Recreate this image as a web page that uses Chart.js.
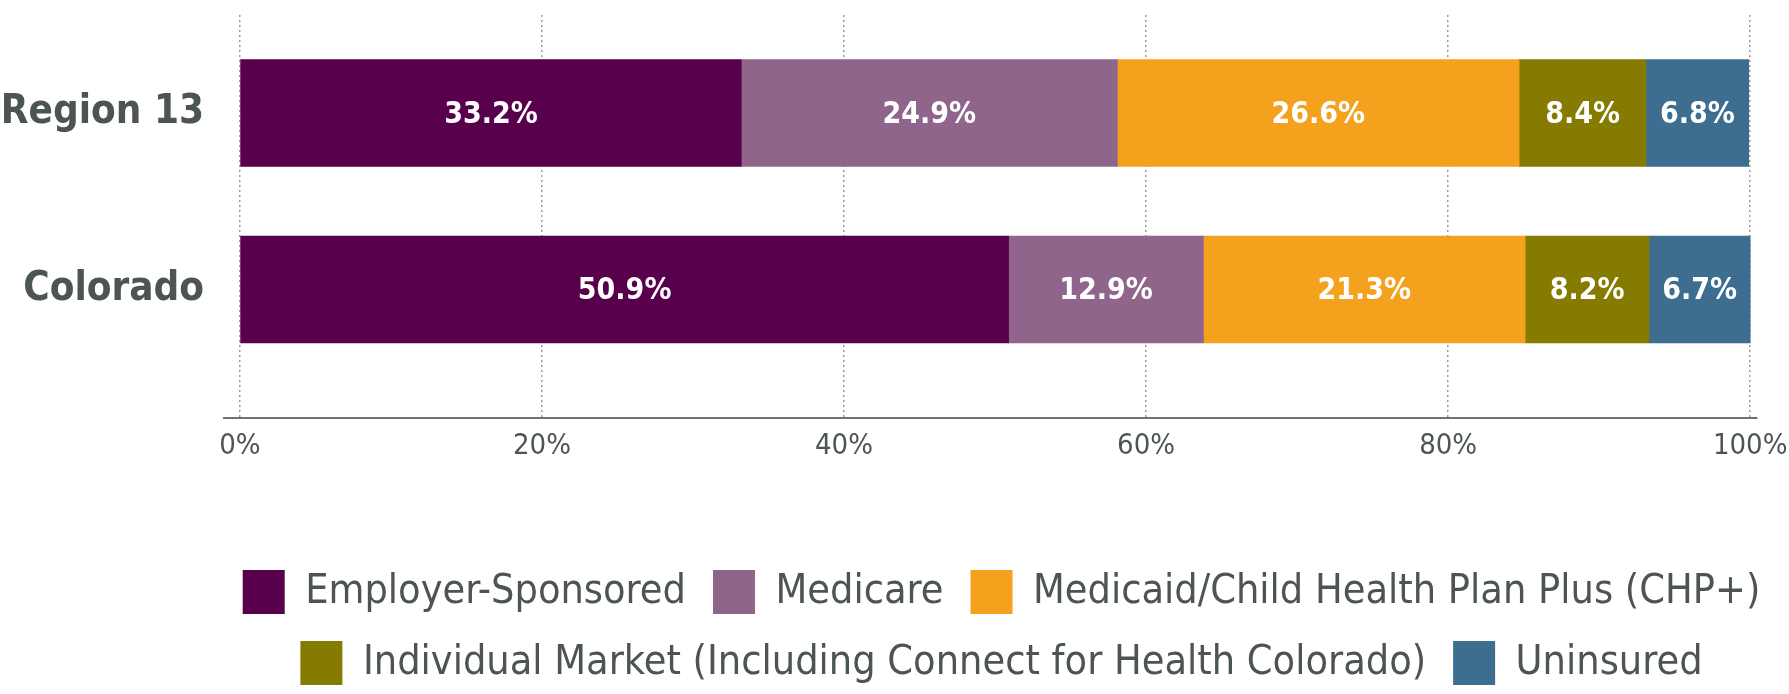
<!DOCTYPE html>
<html>
<head>
<meta charset="utf-8">
<script src="https://cdn.jsdelivr.net/npm/chart.js@4.4.0/dist/chart.umd.min.js"></script>
<style>
html, body { margin: 0; padding: 0; background: #ffffff; }
#wrap { width: 1789px; height: 694px; position: relative; }
</style>
</head>
<body>
<div id="wrap"><canvas id="chart"></canvas></div>
<script>
// ---- data ----
const categories = ['Region 13', 'Colorado'];
const seriesNames = [
  'Employer-Sponsored',
  'Medicare',
  'Medicaid/Child Health Plan Plus (CHP+)',
  'Individual Market (Including Connect for Health Colorado)',
  'Uninsured'
];
const employerSponsored = [33.2, 50.9];
const medicare = [24.9, 12.9];
const medicaidCHP = [26.6, 21.3];
const individualMarket = [8.4, 8.2];
const uninsured = [6.8, 6.7];
const xTickValues = [0, 20, 40, 60, 80, 100];
const seriesColors = ['#58004b', '#8f658c', '#f4a11d', '#857b00', '#3e6e8f'];

// ---- build ----
const seriesValues = [employerSponsored, medicare, medicaidCHP, individualMarket, uninsured];
const FONT = "'DejaVu Sans Condensed', 'DejaVu Sans', sans-serif";
const TEXT = '#4d5553';

const datasets = seriesNames.map((name, s) => ({
  label: name,
  data: categories.map((c, i) => ({ x: seriesValues[s][i], y: i })),
  backgroundColor: seriesColors[s],
  borderWidth: 0,
  barThickness: 107
}));

// white value labels centred in each bar segment
const barLabels = {
  id: 'barLabels',
  afterDatasetsDraw(chart) {
    const ctx = chart.ctx;
    ctx.save();
    ctx.font = 'bold 30px ' + FONT;
    ctx.fillStyle = '#ffffff';
    ctx.textAlign = 'center';
    ctx.textBaseline = 'middle';
    chart.data.datasets.forEach((ds, di) => {
      const meta = chart.getDatasetMeta(di);
      meta.data.forEach((el, i) => {
        const v = ds.data[i].x;
        ctx.fillText(v.toFixed(1) + '%', (el.x + el.base) / 2, el.y + 2);
      });
    });
    ctx.restore();
  }
};

// centre the legend under the plot rather than under the whole canvas
const legendShift = {
  id: 'legendShift',
  afterLayout(chart) {
    const lg = chart.legend;
    if (!lg) return;
    const shift = 107;
    lg.left += shift;
    lg.right += shift;
  }
};

new Chart(document.getElementById('chart'), {
  type: 'bar',
  data: { datasets },
  plugins: [barLabels, legendShift],
  options: {
    indexAxis: 'y',
    responsive: true,
    maintainAspectRatio: false,
    animation: false,
    devicePixelRatio: 1,
    layout: { padding: { top: 15, left: 0, right: 0, bottom: -1 } },
    plugins: {
      tooltip: { enabled: false },
      legend: {
        position: 'bottom',
        labels: {
          font: { family: FONT, size: 41 },
          color: TEXT,
          boxWidth: 42,
          boxHeight: 44,
          padding: 27
        }
      }
    },
    scales: {
      x: {
        type: 'linear',
        stacked: true,
        min: -1.05,
        max: 100.45,
        afterBuildTicks: (s) => { s.ticks = xTickValues.map(v => ({ value: v })); },
        afterFit: (s) => { s.height = 125; s.paddingRight = 32; },
        ticks: {
          callback: (v) => v + '%',
          font: { family: FONT, size: 29 },
          color: TEXT,
          padding: 11,
          maxRotation: 0,
          autoSkip: false
        },
        grid: { color: '#9a9a9a', lineWidth: 1.5, drawTicks: false },
        border: { display: true, color: '#6e7270', width: 2, dash: [2, 3] }
      },
      y: {
        type: 'linear',
        stacked: true,
        reverse: true,
        offset: false,
        min: -0.5552,
        max: 1.7281,
        afterBuildTicks: (s) => { s.ticks = categories.map((c, i) => ({ value: i })); },
        afterFit: (s) => { s.width = 224; s.paddingTop = 0; s.paddingBottom = 0; },
        ticks: {
          callback: (v) => categories[v],
          font: { family: FONT, size: 40, weight: 'bold' },
          color: TEXT,
          padding: 12,
          autoSkip: false
        },
        grid: { display: false, offset: false },
        border: { display: false }
      }
    }
  }
});
</script>
</body>
</html>
